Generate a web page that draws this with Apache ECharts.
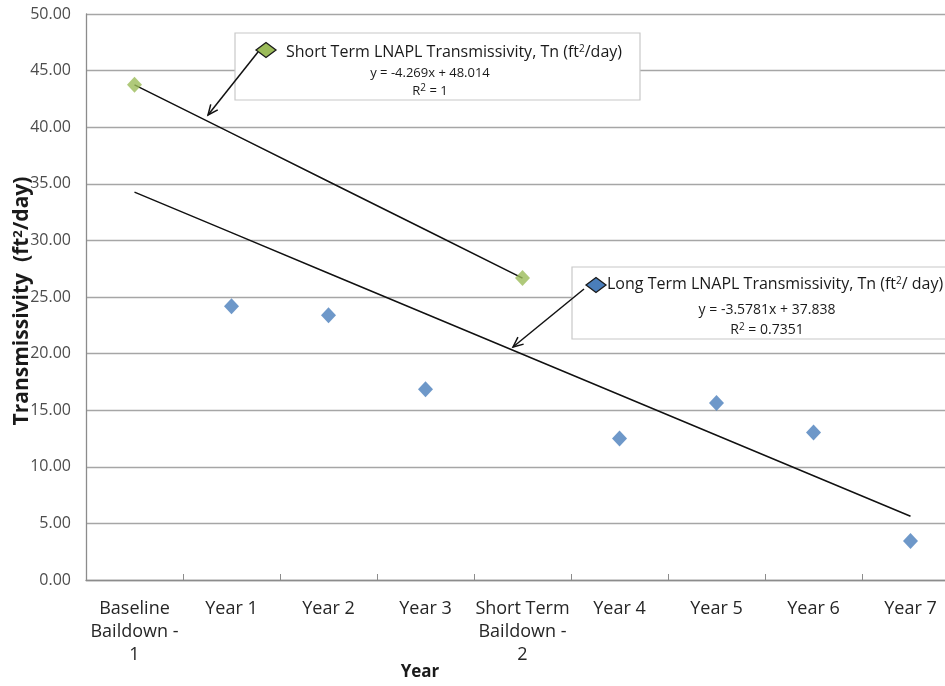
<!DOCTYPE html>
<html>
<head>
<meta charset="utf-8">
<script src="https://cdn.jsdelivr.net/npm/echarts@6/dist/echarts.min.js"></script>
<style>
  html, body { margin: 0; padding: 0; background: #ffffff; overflow: hidden; width: 945px; height: 686px; }
  /* the plot runs past the right edge of the page */
  #chart { width: 962px; height: 686px; }
</style>
</head>
<body>
<div id="chart"></div>
<script>
// Category labels along the x axis
const categories = [
  'Baseline\nBaildown -\n1', 'Year 1', 'Year 2', 'Year 3',
  'Short Term\nBaildown -\n2', 'Year 4', 'Year 5', 'Year 6', 'Year 7'
];

// Short term baildown measurements (Tn, ft²/day)
const shortTermValues = [43.74, null, null, null, 26.67, null, null, null, null];
// Long term annual measurements (Tn, ft²/day)
const longTermValues = [null, 24.18, 23.38, 16.85, null, 12.49, 15.64, 13.02, 3.45];

// Fitted linear trends, x = 1 .. 9 by category position
const shortSlope = -4.269, shortIntercept = 48.014, shortR2 = '1';
const longSlope = -3.5781, longIntercept = 37.838, longR2 = '0.7351';

// y-axis tick range
const yTicks = { min: 0, max: 50, step: 5 };

const FONT = '"Open Sans", "Noto Sans", sans-serif';
const BLUE = '#4A7EBB';
const GREEN = '#9BBB59';

const shortTrend = categories.map((_, i) => i <= 4 ? +(shortIntercept + shortSlope * (i + 1)).toFixed(4) : null);
const longTrend = categories.map((_, i) => +(longIntercept + longSlope * (i + 1)).toFixed(4));

const fmtEq = (m, b) => 'y = ' + m + 'x + ' + b;

const chart = echarts.init(document.getElementById('chart'));

function arrow(x1, y1, x2, y2) {
  // open arrowhead at (x2, y2)
  const ang = Math.atan2(y2 - y1, x2 - x1);
  const L = 11, spread = 0.42;
  const a1 = [x2 - L * Math.cos(ang - spread), y2 - L * Math.sin(ang - spread)];
  const a2 = [x2 - L * Math.cos(ang + spread), y2 - L * Math.sin(ang + spread)];
  return [
    { type: 'polyline', z: 20, shape: { points: [[x1, y1], [x2, y2]] }, style: { stroke: '#111', lineWidth: 1.5, fill: null } },
    { type: 'polyline', z: 20, shape: { points: [a1, [x2, y2], a2] }, style: { stroke: '#111', lineWidth: 1.5, fill: null } }
  ];
}

function diamond(cx, cy, w, h, color) {
  return {
    type: 'polygon', z: 21,
    shape: { points: [[cx - w / 2, cy], [cx, cy - h / 2], [cx + w / 2, cy], [cx, cy + h / 2]] },
    style: { fill: color, stroke: '#1a1a1a', lineWidth: 1.3 }
  };
}

function box(x, y, w, h) {
  return { type: 'rect', z: 15, shape: { x: x, y: y, width: w, height: h },
           style: { fill: '#ffffff', stroke: '#c8c8c8', lineWidth: 1.2 } };
}

const supRich = { s: { fontSize: 10, verticalAlign: 'top', padding: [0, 0, 6, 0], fontFamily: FONT, fill: '#1a1a1a' } };

function txt(x, y, text, size, align) {
  return { type: 'text', z: 22, x: x, y: y,
           style: { text: text, rich: supRich, font: size + 'px ' + FONT, fill: '#1a1a1a', align: align || 'left', verticalAlign: 'middle' } };
}

const graphics = [].concat(
  // Short term annotation
  [box(235, 33, 405, 67)],
  arrow(258, 52, 208, 115),
  [diamond(266, 50, 20, 15, GREEN)],
  [
    txt(286, 52, 'Short Term LNAPL Transmissivity, Tn (ft{s|2}/day)', 16),
    txt(430, 73, fmtEq(shortSlope, shortIntercept), 13, 'center'),
    txt(430, 91, 'R{s|2} = ' + shortR2, 13, 'center')
  ],
  // Long term annotation
  [box(572, 267, 400, 72)],
  arrow(584, 289, 513, 347),
  [diamond(596, 285, 20, 15, BLUE)],
  [
    txt(607, 284, 'Long Term LNAPL Transmissivity, Tn (ft{s|2}/ day)', 16),
    txt(767, 310, fmtEq(longSlope, longIntercept), 14, 'center'),
    txt(767, 330, 'R{s|2} = ' + longR2, 14, 'center')
  ],
  // Axis titles
  [
    { type: 'text', z: 22, x: 420, y: 672,
      style: { text: 'Year', font: 'bold 17px ' + FONT, fill: '#1a1a1a', align: 'center', verticalAlign: 'middle' } },
    { type: 'text', z: 22, x: 22, y: 301, rotation: Math.PI / 2,
      style: { text: 'Transmissivity  (ft{b|2}/day)', font: 'bold 21px ' + FONT, fill: '#1a1a1a', align: 'center', verticalAlign: 'middle',
               rich: { b: { fontSize: 13, fontWeight: 'bold', fontFamily: FONT, verticalAlign: 'top', padding: [0, 0, 8, 0], fill: '#1a1a1a' } } } }
  ]
);

chart.setOption({
  animation: false,
  backgroundColor: '#ffffff',
  grid: { left: 86, top: 14, width: 873, height: 566, containLabel: false },
  xAxis: {
    type: 'category',
    data: categories,
    boundaryGap: true,
    axisLine: { lineStyle: { color: '#8c8c8c', width: 1.3 } },
    axisTick: { show: true, inside: true, length: 6, alignWithLabel: false, lineStyle: { color: '#8c8c8c' } },
    axisLabel: { interval: 0, margin: 17, color: '#262626', fontFamily: FONT, fontSize: 18, lineHeight: 23, align: 'center' },
    splitLine: { show: false }
  },
  yAxis: {
    type: 'value',
    min: yTicks.min, max: yTicks.max, interval: yTicks.step,
    axisLine: { show: true, lineStyle: { color: '#8c8c8c', width: 1.3 } },
    axisTick: { show: false },
    axisLabel: { margin: 15, color: '#4d4d4d', fontFamily: FONT, fontSize: 16, formatter: v => v.toFixed(2) },
    splitLine: { show: true, lineStyle: { color: '#a6a6a6', width: 1.3 } }
  },
  series: [
    {
      name: 'Long Term LNAPL Transmissivity trend', type: 'line', data: longTrend,
      symbol: 'none', connectNulls: true, z: 3,
      lineStyle: { color: '#111111', width: 1.5 }
    },
    {
      name: 'Short Term LNAPL Transmissivity trend', type: 'line', data: shortTrend,
      symbol: 'none', connectNulls: true, z: 3,
      lineStyle: { color: '#111111', width: 1.5 }
    },
    {
      name: 'Long Term LNAPL Transmissivity, Tn', type: 'scatter', data: longTermValues,
      symbol: 'diamond', symbolSize: [15, 16], z: 5,
      itemStyle: { color: BLUE }
    },
    {
      name: 'Short Term LNAPL Transmissivity, Tn', type: 'scatter', data: shortTermValues,
      symbol: 'diamond', symbolSize: [15, 16], z: 5,
      itemStyle: { color: GREEN }
    }
  ],
  graphic: graphics
});
</script>
</body>
</html>
